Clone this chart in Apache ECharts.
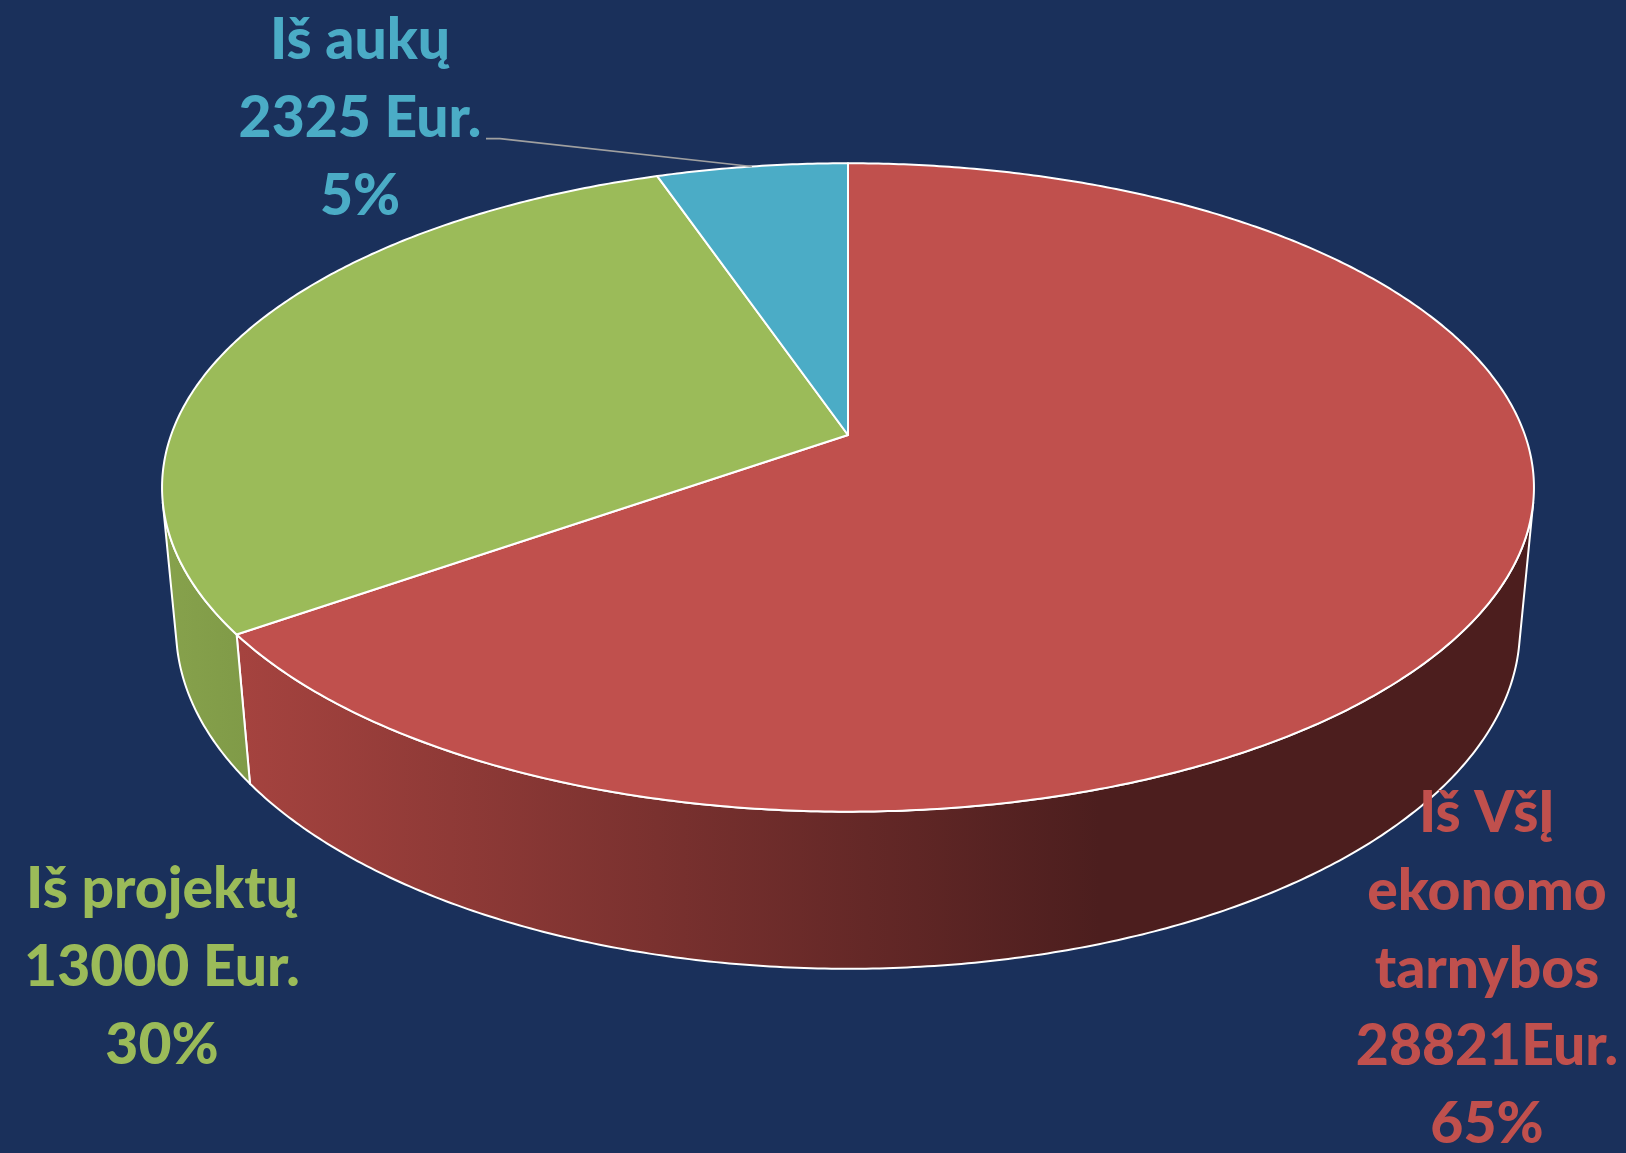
<!DOCTYPE html>
<html><head><meta charset="utf-8">
<script src="https://cdn.jsdelivr.net/npm/echarts@6/dist/echarts.min.js"></script>
<style>html,body{margin:0;padding:0;background:#1a305b}#c{width:1626px;height:1153px}</style>
</head><body><div id="c"></div>
<script>
// ---- data ----
const categories = ['Iš VšĮ\nekonomo\ntarnybos', 'Iš projektų', 'Iš aukų'];
const values = [28821, 13000, 2325];
const units = ['Eur.', ' Eur.', ' Eur.'];
const percentLabels = ['65%', '30%', '5%'];

// ---- style / layout ----
const topColors = ['#c0504d', '#9bbb59', '#4bacc6'];
const wallStops = [
  [{offset: 0, color: '#a5433f'}, {offset: 1, color: '#4c1e1e'}],
  [{offset: 0, color: '#87a24c'}, {offset: 1, color: '#7f9a47'}],
  [{offset: 0, color: '#3f93aa'}, {offset: 1, color: '#2f7488'}]
];
const wallGrad = [[240, 1100], [160, 255], [600, 800]];
const labelPos = [[1487, 834], [162, 910], [360, 61]];
const LINE_H = 77.6;
const VIEW = {cx: 848, cy: 435, k: 3700, L: 5.466, alpha: 27.8 * Math.PI / 180, h: 0.238};

const SA = Math.sin(VIEW.alpha), CA = Math.cos(VIEW.alpha);
function proj3(X, Y, z) {
  const yc = Y * SA + z * CA;
  const zc = VIEW.L + Y * CA - z * SA;
  return [VIEW.cx + VIEW.k * X / zc, VIEW.cy - VIEW.k * yc / zc];
}
function proj(t, z) {
  const r = t * Math.PI / 180;
  return proj3(Math.sin(r), Math.cos(r), z);
}
function arc(a, b, z) {
  const pts = [];
  const n = Math.max(2, Math.ceil(Math.abs(b - a) / 0.5));
  for (let j = 0; j <= n; j++) pts.push(proj(a + (b - a) * j / n, z));
  return pts;
}
const total = values.reduce((s, v) => s + v, 0);
let acc = 0;
const slices = values.map(v => { const a = acc / total * 360; acc += v; return [a, acc / total * 360]; });
const tVis = Math.acos(-1 / (VIEW.L * CA)) * 180 / Math.PI;

const chart = echarts.init(document.getElementById('c'), null, {renderer: 'canvas'});
chart.setOption({
  backgroundColor: '#1a305b',
  animation: false,
  series: [
    { // side walls
      type: 'custom', coordinateSystem: 'none', z: 1, silent: true,
      data: values.map((v, i) => [i, v]),
      renderItem: function (params) {
        const i = params.dataIndex;
        const a = Math.max(slices[i][0], tVis), b = Math.min(slices[i][1], 360 - tVis);
        if (b <= a) return {type: 'group', children: []};
        const pts = arc(a, b, 0).concat(arc(b, a, -VIEW.h));
        return {
          type: 'polygon', shape: {points: pts},
          style: {
            fill: {type: 'linear', x: wallGrad[i][0], y: 0, x2: wallGrad[i][1], y2: 0, global: true, colorStops: wallStops[i]},
            stroke: '#ffffff', lineWidth: 2, lineJoin: 'round'
          }
        };
      }
    },
    { // top faces
      type: 'custom', coordinateSystem: 'none', z: 2, silent: true,
      data: values.map((v, i) => [i, v]),
      renderItem: function (params) {
        const i = params.dataIndex;
        const pts = [proj3(0, 0, 0)].concat(arc(slices[i][0], slices[i][1], 0));
        return {
          type: 'polygon', shape: {points: pts},
          style: {fill: topColors[i], stroke: '#ffffff', lineWidth: 2, lineJoin: 'round'}
        };
      }
    },
    { // labels
      type: 'custom', coordinateSystem: 'none', z: 3, silent: true,
      data: values.map((v, i) => [i, v]),
      renderItem: function (params, api) {
        const i = params.dataIndex;
        const lines = categories[i].split('\n').concat([api.value(1) + units[i], percentLabels[i]]);
        const children = lines.map((ln, j) => ({
          type: 'text',
          style: {
            text: ln, x: labelPos[i][0], y: labelPos[i][1] + j * LINE_H - 20,
            fill: topColors[i], font: '900 57px Lato, "Open Sans", sans-serif',
            align: 'center', verticalAlign: 'middle'
          }
        }));
        if (i === 2) {
          const mid = proj((slices[i][0] + slices[i][1]) / 2, 0);
          const y0 = labelPos[i][1] + LINE_H;
          children.push({
            type: 'polyline',
            shape: {points: [[labelPos[i][0] + 126, y0], [labelPos[i][0] + 140, y0], mid]},
            style: {stroke: '#a0a0a0', lineWidth: 1.6, fill: null}
          });
        }
        return {type: 'group', children: children};
      }
    }
  ]
});
</script>
</body></html>
